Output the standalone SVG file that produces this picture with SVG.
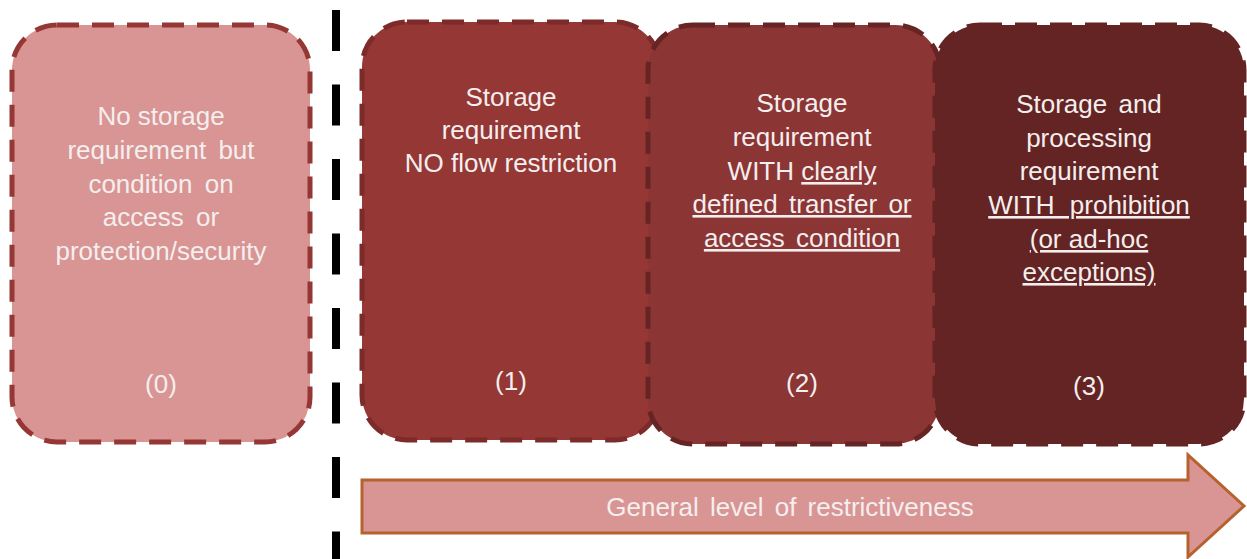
<svg xmlns="http://www.w3.org/2000/svg" width="1247" height="559" viewBox="0 0 1247 559">
<style>
  .t { font-family: "Liberation Sans", Arial, sans-serif; font-size: 26px; fill: #F4EEEE; text-anchor: middle; }
  .u { text-decoration: underline; }
  .dash { fill: none; stroke-width: 5; stroke-dasharray: 22 13; }
</style>
<rect width="1247" height="559" fill="#FFFFFF"/>
<g id="divider">
  <line x1="336" y1="10" x2="336" y2="559" stroke="#000000" stroke-width="8" stroke-dasharray="41 33.5"/>
</g>
<g id="node0">
  <rect x="12" y="25" width="298" height="417" rx="45" fill="#D99594"/>
  <rect x="12" y="25" width="298" height="417" rx="45" class="dash" stroke="#953735"/>
  <text class="t" x="161" y="125">No storage</text>
  <text class="t" x="161" y="159" word-spacing="5">requirement but</text>
  <text class="t" x="161" y="193" word-spacing="5">condition on</text>
  <text class="t" x="161" y="226" word-spacing="5">access or</text>
  <text class="t" x="161" y="260">protection/security</text>
  <text class="t" x="161" y="393">(0)</text>
</g>
<g id="node1">
  <rect x="362" y="22" width="298" height="418" rx="45" fill="#953735"/>
  <rect x="362" y="22" width="298" height="418" rx="45" class="dash" stroke="#7C2B2A"/>
  <text class="t" x="511" y="106">Storage</text>
  <text class="t" x="511" y="139">requirement</text>
  <text class="t" x="511" y="172">NO flow restriction</text>
  <text class="t" x="511" y="390">(1)</text>
</g>
<g id="node2">
  <rect x="648" y="25" width="292" height="419" rx="45" fill="#8B3535"/>
  <rect x="648" y="25" width="292" height="419" rx="45" class="dash" stroke="#672424"/>
  <text class="t" x="802" y="112">Storage</text>
  <text class="t" x="802" y="146">requirement</text>
  <text class="t" x="802" y="180">WITH <tspan class="u">clearly</tspan></text>
  <text class="t u" x="802" y="213" word-spacing="4">defined transfer or</text>
  <text class="t u" x="802" y="247" word-spacing="4">access condition</text>
  <text class="t" x="802" y="392">(2)</text>
</g>
<g id="node3">
  <rect x="935" y="25" width="309" height="419" rx="45" fill="#632423"/>
  <rect x="935" y="25" width="309" height="419" rx="45" class="dash" stroke="#632423"/>
  <text class="t" x="1089" y="113" word-spacing="4">Storage and</text>
  <text class="t" x="1089" y="147">processing</text>
  <text class="t" x="1089" y="180">requirement</text>
  <text class="t u" x="1089" y="214" word-spacing="8">WITH prohibition</text>
  <text class="t u" x="1089" y="248">(or ad-hoc</text>
  <text class="t u" x="1089" y="281">exceptions)</text>
  <text class="t" x="1089" y="395">(3)</text>
</g>
<g id="connectors">
  <polygon points="362,480 1188,480 1188,455 1244,506 1188,557 1188,533 362,533" fill="#D99594" stroke="#B5622E" stroke-width="3" stroke-linejoin="miter"/>
  <text class="t" x="790" y="516" word-spacing="4">General level of restrictiveness</text>
</g>
</svg>
